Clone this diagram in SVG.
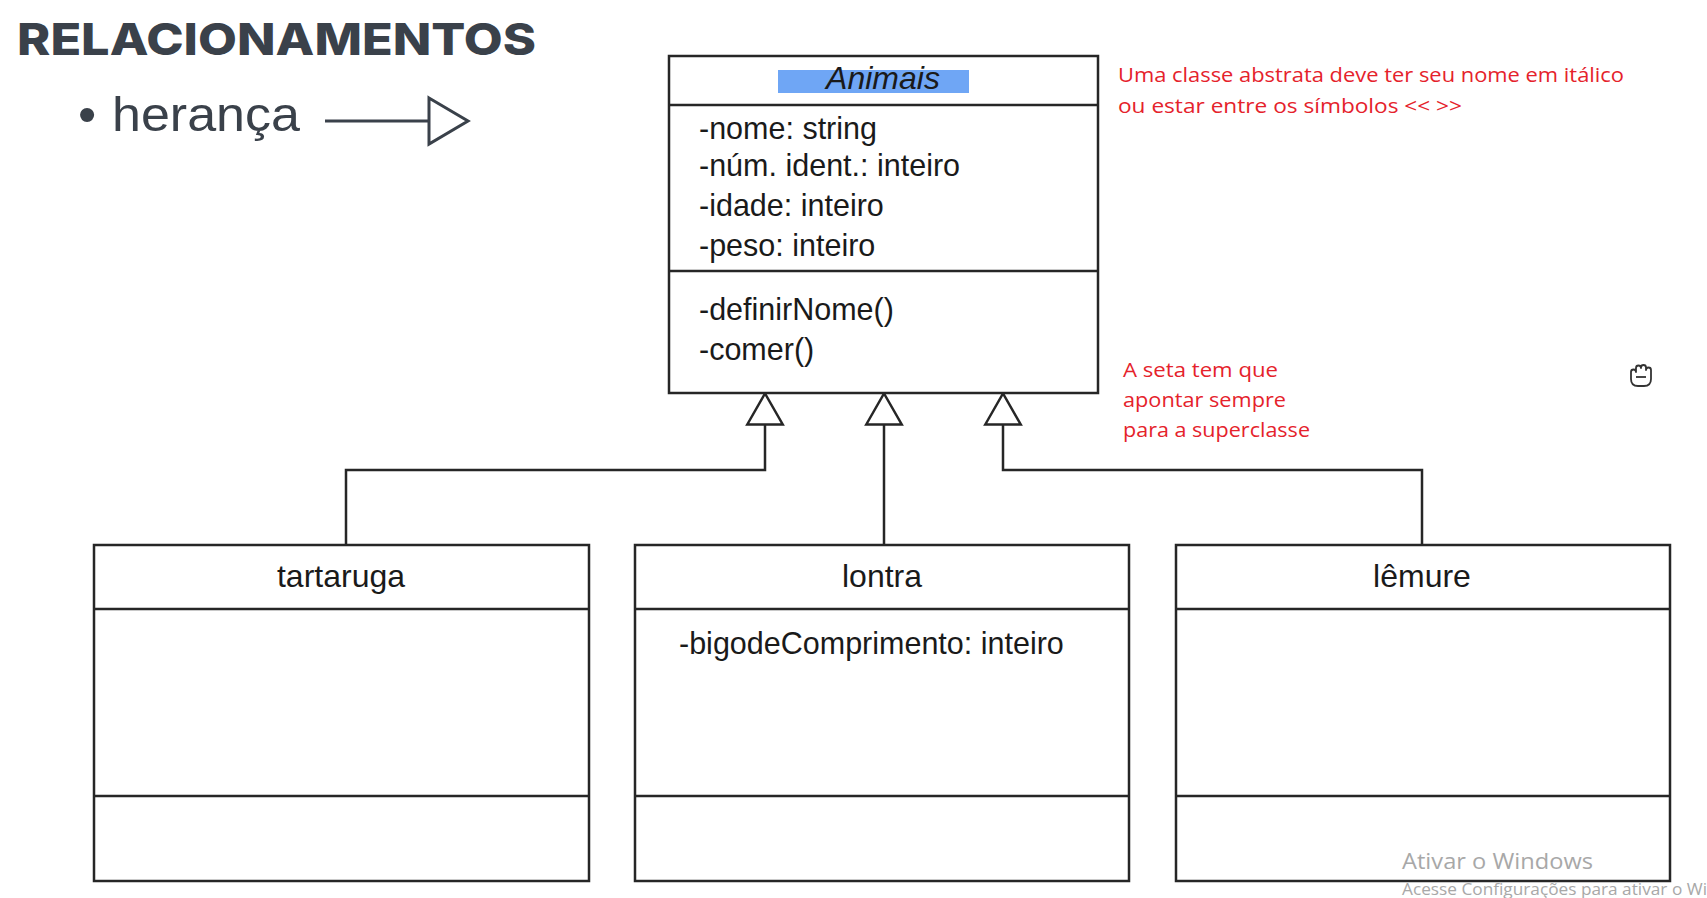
<svg xmlns="http://www.w3.org/2000/svg" width="1707" height="898" viewBox="0 0 1707 898">
<style>
.box{fill:#fff;stroke:#262626;stroke-width:2.5}
.div{stroke:#262626;stroke-width:2.5}
.conn{fill:none;stroke:#262626;stroke-width:2.5}
.t{font-family:"Liberation Sans",Arial,sans-serif;font-size:30.5px;fill:#1a1a1a}
.h{font-family:"Liberation Sans",Arial,sans-serif;font-size:32px;fill:#1a1a1a;text-anchor:middle}
.red{font-family:"Open Sans","Noto Sans",sans-serif;font-size:20.5px;fill:#e5222b}
.wm{font-family:"Open Sans","Noto Sans",sans-serif;fill:#a8a8a8}
.slate{fill:#3a414a}
</style>
<defs>
<marker id="inh" markerUnits="userSpaceOnUse" viewBox="-2 -2 35 40" markerWidth="35" markerHeight="40" refX="31" refY="17.75" orient="auto" overflow="visible">
<path d="M0,0 L31,17.75 L0,35.5 Z" fill="#fff" stroke="#262626" stroke-width="2.5" stroke-linejoin="miter"/>
</marker>
</defs>
<rect width="1707" height="898" fill="#fff"/>

<g id="title">
<text x="17" y="55" font-family="Inter,'Liberation Sans',sans-serif" font-weight="800" font-size="44" class="slate" textLength="519" lengthAdjust="spacingAndGlyphs">RELACIONAMENTOS</text>
<text x="78" y="132" font-family="'Liberation Sans',Arial,sans-serif" font-size="52" class="slate">•</text>
<text x="112" y="131" font-family="'Liberation Sans',Arial,sans-serif" font-size="49" class="slate" textLength="188" lengthAdjust="spacingAndGlyphs">herança</text>
<g fill="none" stroke="#3a414a" stroke-width="3">
<line x1="325" y1="121" x2="429" y2="121"/>
<polygon points="429,98 468,121 429,144" fill="#fff"/>
</g>
</g>

<g id="connectors">
<path class="conn" d="M346,545 V470 H765 V393.5" marker-end="url(#inh)"/>
<path class="conn" d="M884,545 V393.5" marker-end="url(#inh)"/>
<path class="conn" d="M1422,545 V470 H1003 V393.5" marker-end="url(#inh)"/>
</g>

<g id="animais">
<rect class="box" x="669" y="56" width="429" height="337"/>
<line class="div" x1="669" y1="105" x2="1098" y2="105"/>
<line class="div" x1="669" y1="271" x2="1098" y2="271"/>
<rect x="778" y="70" width="191" height="23" fill="#6fa6f5"/>
<text x="883" y="89" class="h" font-size="30" font-style="italic">Animais</text>
<text x="699" y="139" class="t">-nome: string</text>
<text x="699" y="176" class="t">-núm. ident.: inteiro</text>
<text x="699" y="216" class="t">-idade: inteiro</text>
<text x="699" y="256" class="t">-peso: inteiro</text>
<text x="699" y="320" class="t">-definirNome()</text>
<text x="699" y="360" class="t">-comer()</text>
</g>

<g id="tartaruga">
<rect class="box" x="94" y="545" width="495" height="336"/>
<line class="div" x1="94" y1="609" x2="589" y2="609"/>
<line class="div" x1="94" y1="796" x2="589" y2="796"/>
<text x="341" y="587" class="h">tartaruga</text>
</g>

<g id="lontra">
<rect class="box" x="635" y="545" width="494" height="336"/>
<line class="div" x1="635" y1="609" x2="1129" y2="609"/>
<line class="div" x1="635" y1="796" x2="1129" y2="796"/>
<text x="882" y="587" class="h">lontra</text>
<text x="679" y="654" class="t">-bigodeComprimento: inteiro</text>
</g>

<g id="lemure">
<rect class="box" x="1176" y="545" width="494" height="336"/>
<line class="div" x1="1176" y1="609" x2="1670" y2="609"/>
<line class="div" x1="1176" y1="796" x2="1670" y2="796"/>
<text x="1422" y="587" class="h">lêmure</text>
</g>

<g id="notes">
<text x="1118" y="82" class="red" textLength="506" lengthAdjust="spacingAndGlyphs">Uma classe abstrata deve ter seu nome em itálico</text>
<text x="1118" y="113" class="red" textLength="344" lengthAdjust="spacingAndGlyphs">ou estar entre os símbolos &lt;&lt; &gt;&gt;</text>
<text x="1123" y="377" class="red" textLength="155" lengthAdjust="spacingAndGlyphs">A seta tem que</text>
<text x="1123" y="407" class="red" textLength="163" lengthAdjust="spacingAndGlyphs">apontar sempre</text>
<text x="1123" y="437" class="red" textLength="187" lengthAdjust="spacingAndGlyphs">para a superclasse</text>
</g>

<g id="cursor" fill="#fff" stroke="#333" stroke-width="1.8" stroke-linejoin="round">
<path d="M1631,379 V372 Q1631,369.5 1633.5,369.5 Q1636,369.5 1636,372 V368 Q1636,365.5 1638.5,365.5 Q1641,365.5 1641,368 V367.5 Q1641,365 1643.5,365 Q1646,365 1646,367.5 V370 Q1646,367.5 1648.5,367.5 Q1651,367.5 1651,370 V379 Q1651,386 1644,386 H1638 Q1631,386 1631,379 Z"/>
<path d="M1636,377 H1646" fill="none"/>
</g>

<g id="watermark">
<text x="1402" y="869" class="wm" font-size="22" textLength="191" lengthAdjust="spacingAndGlyphs">Ativar o Windows</text>
<text x="1402" y="895" class="wm" font-size="17" textLength="305" lengthAdjust="spacingAndGlyphs">Acesse Configurações para ativar o Wi</text>
</g>
</svg>
